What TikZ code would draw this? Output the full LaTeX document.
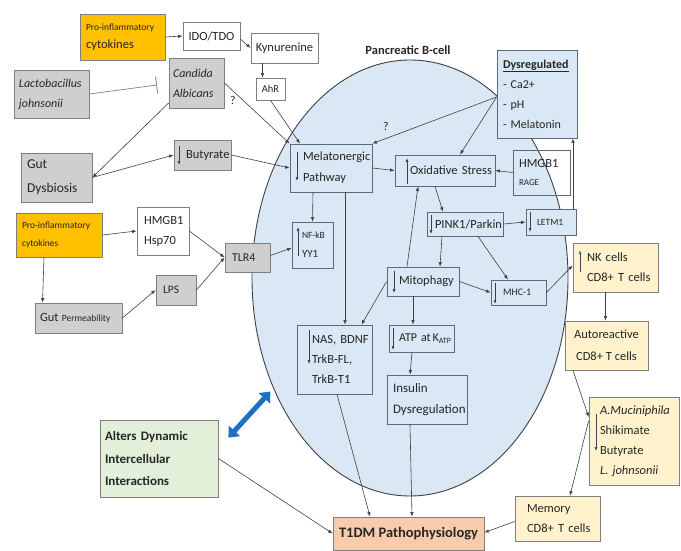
\documentclass[tikz,border=0pt]{standalone}
\usepackage{fontspec}
\setmainfont{Carlito}
\usetikzlibrary{arrows.meta,shapes.geometric}
\definecolor{cellfill}{HTML}{DAE7F4}
\definecolor{cellline}{HTML}{404040}
\definecolor{blueline}{HTML}{5A6A7A}
\definecolor{grayfill}{HTML}{D0CECE}
\definecolor{grayline}{HTML}{7F7F7F}
\definecolor{orangefill}{HTML}{FFC000}
\definecolor{creamfill}{HTML}{FFF2CC}
\definecolor{greenfill}{HTML}{E2F0D9}
\definecolor{salmonfill}{HTML}{F8CBAD}
\definecolor{lineclr}{HTML}{404040}
\definecolor{txt}{HTML}{262626}
\definecolor{arrowblue}{HTML}{1F70C1}
\newcommand\myfs[2]{\fontsize{#1}{#2}\selectfont}
\newlength\curind
\newcommand\myind[1]{\setlength\curind{#1pt}\hspace*{\curind}}
\newcommand\nl{\newline\hspace*{\curind}}
\hyphenpenalty=10000
\exhyphenpenalty=10000
\begin{document}
\begin{tikzpicture}[x=1pt,y=-1pt,
  base/.style={rectangle, line width=0.8pt, inner xsep=0pt, inner ysep=0pt, text=txt},
  gbox/.style={base, fill=grayfill, draw=grayline},
  bbox/.style={base, fill=cellfill, draw=blueline},
  nbox/.style={base, draw=blueline},
  wbox/.style={base, fill=white, draw=grayline},
  obox/.style={base, fill=orangefill, draw=grayline},
  ybox/.style={base, fill=creamfill, draw=grayline},
  grbox/.style={base, fill=greenfill, draw=grayline},
  sbox/.style={base, fill=salmonfill, draw=grayline},
  conn/.style={draw=lineclr, line width=0.6pt, -{Latex[length=4.5pt,width=3.5pt]}},
  inarr/.style={draw=lineclr, line width=0.6pt, -{Latex[length=4pt,width=3pt]}},
  inhst/.style={draw=grayline, line width=0.7pt, -{Bar[width=17pt,line width=0.8pt]}},
  blueconn/.style={draw=arrowblue, line width=5pt, {Triangle[length=9pt,width=15pt]}-{Triangle[length=9pt,width=15pt]}},
]
\useasboundingbox (0,0) rectangle (681,551);

% cell
\node[ellipse, draw=cellline, fill=cellfill, line width=0.9pt, minimum width=316pt, minimum height=436pt, inner sep=0pt] (cell) at (410,278) {};
\node[font=\bfseries\myfs{12.5}{15}, text=txt] (pbl) at (408,50) {Pancreatic B-cell};

% left / top nodes
\node[obox, text width=85pt, minimum height=46pt, font=\myfs{12.5}{18}] (proA) at (122.5,37) {\myind{6}{\myfs{9.5}{11}Pro-inflammatory}\nl cytokines};
\node[wbox, minimum width=57pt, minimum height=28pt, align=center, font=\myfs{12.5}{15}] (ido) at (211.5,36) {IDO/TDO};
\node[wbox, minimum width=67pt, minimum height=30pt, align=center, font=\myfs{12.5}{15}] (kyn) at (284.5,48) {Kynurenine};
\node[wbox, minimum width=29pt, minimum height=22pt, align=center, font=\myfs{10.5}{12}] (ahr) at (270.5,89) {AhR};
\node[gbox, text width=55pt, minimum height=50pt, font=\itshape\myfs{12}{20}] (cand) at (196.5,83) {\myind{4}Candida\nl Albicans};
\node[gbox, text width=75pt, minimum height=48pt, font=\itshape\myfs{12}{20}] (lacto) at (51.5,94) {\myind{5}Lactobacillus\nl johnsonii};
\node[gbox, text width=71pt, minimum height=49pt, font=\myfs{13.5}{24}] (dysb) at (56.5,177.5) {\myind{6}Gut\nl Dysbiosis};
\node[gbox, text width=57pt, minimum height=30pt, font=\myfs{12.5}{15}] (buty) at (202.5,155) {\myind{12}Butyrate};
\node[obox, text width=86pt, minimum height=44pt, font=\myfs{9.5}{18}] (proB) at (59,235) {\myind{6}Pro-inflammatory\nl cytokines};
\node[wbox, text width=52pt, minimum height=48pt, font=\myfs{12.5}{20}] (hsp) at (163,231) {\myind{7}HMGB1\nl Hsp70};
\node[gbox, text width=45pt, minimum height=29pt, font=\myfs{12}{15}] (tlr) at (247.5,257.5) {\myind{7}TLR4};
\node[gbox, text width=40pt, minimum height=30pt, font=\myfs{11.5}{14}] (lps) at (176,290) {\myind{7}LPS};
\node[gbox, text width=87pt, minimum height=30pt, font=\myfs{9.5}{14}] (perm) at (78.5,318) {\myind{5}\mbox{{\myfs{12.5}{15}Gut} Permeability}};
\node[grbox, text width=118pt, minimum height=77pt, font=\bfseries\myfs{13}{22.5}] (alt) at (159,458.5) {\myind{5}Alters Dynamic\nl Intercellular\nl Interactions};

% cell nodes
\node[bbox, text width=82pt, minimum height=48pt, font=\myfs{12.5}{21}] (mel) at (331,168) {\myind{13}Melatonergic\nl Pathway};
\node[bbox, text width=100pt, minimum height=31pt, font=\myfs{12.5}{15}] (oxs) at (445,170.5) {\myind{15}\mbox{Oxidative Stress}};
\node[nbox, text width=57pt, minimum height=45pt, font=\myfs{12.5}{18}] (hmgr) at (541.5,172.5) {\myind{6}HMGB1\nl {\myfs{9}{11}RAGE}};
\node[bbox, text width=80pt, minimum height=88pt, font=\myfs{12}{20}] (dysr) at (537,94) {\myind{6}\textbf{\underline{Dysregulated}}\nl - Ca2+\nl - pH\nl - Melatonin};
\node[bbox, text width=76pt, minimum height=24pt, font=\myfs{12.5}{15}] (pink) at (465,224) {\myind{8}PINK1/Parkin};
\node[bbox, text width=50pt, minimum height=26pt, font=\myfs{9.5}{12}] (letm) at (551,222) {\myind{11}LETM1};
\node[bbox, text width=41pt, minimum height=46pt, font=\myfs{11}{19}] (nfkb) at (312.5,245) {\myind{10}{\myfs{9.5}{11}NF-kB}\nl YY1};
\node[bbox, text width=72pt, minimum height=29pt, font=\myfs{12.5}{15}] (mito) at (423,281.5) {\myind{12}Mitophagy};
\node[bbox, text width=55pt, minimum height=25pt, font=\myfs{10}{12}] (mhc) at (518.5,292.5) {\myind{12}MHC-1};
\node[bbox, text width=75pt, minimum height=69pt, font=\myfs{12.5}{20}] (nas) at (334.5,359.5) {\myind{15}\mbox{NAS, BDNF}\nl TrkB-FL,\nl TrkB-T1};
\node[bbox, text width=65pt, minimum height=27pt, font=\myfs{12}{15}] (atp) at (421.5,338.5) {\myind{10}\mbox{ATP at\,K\textsubscript{ATP}}};
\node[bbox, text width=80pt, minimum height=49pt, font=\myfs{13}{21}] (ins) at (427,399.5) {\myind{6}Insulin\nl Dysregulation};

% right nodes
\node[ybox, text width=85pt, minimum height=49pt, font=\myfs{12.5}{20}] (nk) at (615.5,267.5) {\myind{14}NK cells\nl \mbox{CD8+ T cells}};
\node[ybox, minimum width=83pt, minimum height=49pt, align=center, font=\myfs{12.5}{22}] (auto) at (606.5,345.5) {Autoreactive\\CD8+ T cells};
\node[ybox, text width=90pt, minimum height=88pt, font=\myfs{12.5}{20}] (akk) at (634,441) {\myind{11}\textit{A.Muciniphila}\nl Shikimate\nl Butyrate\nl \textit{L. johnsonii}};
\node[ybox, text width=85pt, minimum height=45pt, font=\myfs{12.5}{20}] (mem) at (557.5,518.5) {\myind{12}Memory\nl \mbox{CD8+ T cells}};
\node[sbox, minimum width=151pt, minimum height=33pt, align=center, font=\bfseries\myfs{14.5}{17}] (t1dm) at (408.5,533.5) {T1DM Pathophysiology};

% question marks
\node[font=\myfs{12}{14}, text=txt] (q1) at (233,100) {?};
\node[font=\myfs{12}{14}, text=txt] (q2) at (386,126) {?};

% internal regulation arrows
\draw[inarr] (179,146) -- (179,165);
\draw[inarr] (297,152) -- (297,181);
\draw[inarr] (407,184) -- (407,158);
\draw[inarr] (298,256) -- (298,227);
\draw[inarr] (431,215) -- (431,234);
\draw[inarr] (530,212) -- (530,232);
\draw[inarr] (394,271) -- (394,293);
\draw[inarr] (495,283) -- (495,304);
\draw[inarr] (309,330) -- (309,364);
\draw[inarr] (393,328) -- (393,350);
\draw[draw=lineclr, line width=0.6pt, -{Latex[length=4pt,width=3pt,color=arrowblue]}] (580,272) -- (580,250);
\draw[inarr] (596,414) -- (596,451);

% connectors
\coordinate (inh) at (157,85);
\draw[conn] (proA.east) -- (ido.west);
\draw[conn] ([yshift=-3pt]ido.east) -- (kyn.west);
\draw[conn] ([xshift=-8pt]ahr.north |- kyn.south) -- ([xshift=-8pt]ahr.north);
\draw[conn] (ahr.south) -- ([xshift=-31pt]mel.north);
\draw[conn] (cand.east) -- (mel.north west);
\draw[inhst] (lacto.east) -- (inh);
\draw[conn] ([yshift=-20pt]cand.west) -- (dysb.east);
\draw[conn] (dysb.east) -- (buty.west);
\draw[conn] (buty.east) -- (mel.west);
\draw[conn] ([yshift=-3pt]dysr.west) -- (mel.north east);
\draw[conn] ([yshift=-3pt]dysr.west) -- ([xshift=15pt]oxs.north);
\draw[conn] (mel.east) -- (oxs.west);
\draw[conn] (hmgr.west) -- (oxs.east);
\draw[conn] ([xshift=-10pt]oxs.south) -- ([xshift=-22pt]pink.north);
\draw[conn] (pink.east) -- (letm.west);
\draw[conn] ([xshift=-23pt]pink.south) -- ([xshift=17pt]mito.north);
\draw[conn] ([xshift=13pt]pink.south) -- ([xshift=-10.5pt]mhc.north);
\draw[conn] (mito.east) -- (mhc.west);
\draw[conn] ([xshift=-16pt]mito.north) -- ([xshift=-27pt]oxs.south);
\draw[conn] (mito.west) -- ([xshift=27pt]nas.north);
\draw[conn] ([xshift=14pt]mel.south) -- ([xshift=10.5pt]nas.north);
\draw[conn] ([xshift=-18pt]mel.south) -- (nfkb.north);
\draw[conn] ([yshift=2pt]tlr.east) -- ([yshift=-3pt]nfkb.west);
\draw[conn] (proB.east) -- (hsp.west);
\draw[conn] ([xshift=-15pt]proB.south) -- ([xshift=-36pt]perm.north);
\draw[conn] (perm.east) -- (lps.west);
\draw[conn] (hsp.east) -- (tlr.west);
\draw[conn] (lps.east) -- (tlr.west);
\draw[conn] ([xshift=-10pt]mito.south) -- ([xshift=-8.5pt]atp.north);
\draw[conn] ([xshift=-9.5pt]atp.south) -- ([xshift=-17pt]ins.north);
\draw[conn] ([xshift=-17pt]ins.south) -- ([xshift=3.5pt]t1dm.north);
\draw[conn] ([xshift=2.5pt]nas.south) -- ([xshift=-38.5pt]t1dm.north);
\draw[conn] (alt.east) -- (t1dm.west);
\draw[conn] ([yshift=-3pt]mem.west) -- ([yshift=1pt]t1dm.east);
\draw[conn] (mhc.east) -- ([yshift=2pt]nk.west);
\draw[conn] ([xshift=-10pt]nk.south) -- ([xshift=-1pt]auto.north);
\draw[conn] ([xshift=-33.5pt]auto.south) -- ([yshift=24pt]akk.west);
\draw[conn] ([yshift=20pt]akk.west) -- ([xshift=12.5pt]mem.north);
\draw[conn] ([xshift=22pt]letm.north) -- ([xshift=36pt]dysr.south);
\draw[blueconn] ([shift={(10,18)}]alt.north east) -- ([shift={(-3,3)}]cell.219);
\end{tikzpicture}
\end{document}
